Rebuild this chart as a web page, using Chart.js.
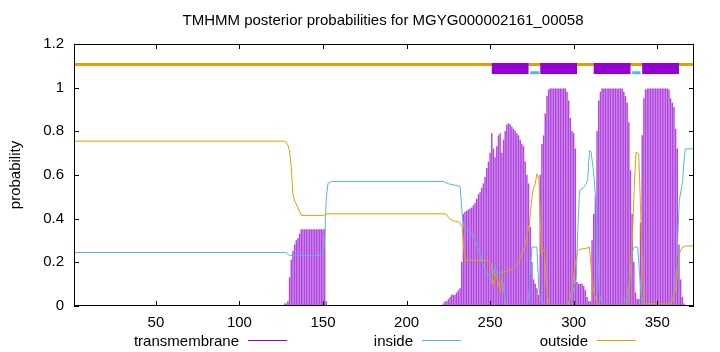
<!DOCTYPE html>
<html>
<head>
<meta charset="utf-8">
<script src="https://cdn.jsdelivr.net/npm/chart.js@4/dist/chart.umd.min.js"></script>
<style>
  body { margin: 0; background: #fff; font-family: "Liberation Sans", Arial, sans-serif; }
  #wrap { position: relative; width: 720px; height: 352px; }
  #title { position: absolute; top: 11px; left: 383px; transform: translateX(-50%); white-space: nowrap; font-size: 15px; line-height: 18px; color: #000; }
  .keytext { position: absolute; top: 332px; width: 200px; text-align: right; font-size: 15px; line-height: 18px; color: #000; white-space: nowrap; }
  .keyline { position: absolute; top: 340px; width: 39px; height: 1px; }
</style>
</head>
<body>
<div id="wrap">
  <canvas id="chart" width="720" height="352"></canvas>
  <div id="title">TMHMM posterior probabilities for MGYG000002161_00058</div>
</div>
<script>
// sequence length and tick labels
const seqLength = 372;
const xTicks = [50, 100, 150, 200, 250, 300, 350];
const yTicks = [0, 0.2, 0.4, 0.6, 0.8, 1, 1.2];

// transmembrane posterior, read per residue (0 elsewhere)
const tmSeg1Start = 127;
const tmSeg1 = [0.01, 0.01, 0.02, 0.13, 0.21, 0.25, 0.28, 0.30, 0.31, 0.33,
  0.35, 0.35, 0.35, 0.35, 0.35, 0.35, 0.35, 0.35, 0.35, 0.35, 0.35, 0.35, 0.35, 0.35, 0.35,
  0.02];
const tmSeg2Start = 222;
const tmSeg2 = [0.01, 0.02, 0.02, 0.03, 0.04, 0.05, 0.05, 0.05, 0.06, 0.07,
  0.08, 0.2, 0.42, 0.43, 0.435, 0.44, 0.445, 0.45, 0.46, 0.47,
  0.49, 0.51, 0.52, 0.54, 0.56, 0.59, 0.63, 0.66, 0.7, 0.79,
  0.72, 0.68, 0.73, 0.78, 0.79, 0.7, 0.76, 0.8, 0.83, 0.835,
  0.83, 0.82, 0.81, 0.8, 0.79, 0.78, 0.76, 0.74, 0.73, 0.66,
  0.6, 0.56, 0.36, 0.2, 0.12, 0.1, 0.08, 0.05, 0.6, 0.74,
  0.78, 0.88, 0.96, 0.99, 0.995, 0.995, 0.995, 0.995, 0.995, 0.995,
  0.995, 0.995, 0.995, 0.995, 0.98, 0.94, 0.86, 0.8, 0.79, 0.72,
  0.11, 0.1, 0.1, 0.1, 0.09, 0.07, 0.04, 0.02, 0.02, 0.3,
  0.42, 0.5, 0.8, 0.94, 0.98, 0.995, 0.995, 0.995, 0.995, 0.995,
  0.995, 0.995, 0.995, 0.995, 0.995, 0.995, 0.995, 0.995, 0.98, 0.96,
  0.93, 0.84, 0.62, 0.42, 0.2, 0.06, 0.03, 0.03, 0.38, 0.78,
  0.95, 0.99, 0.995, 0.995, 0.995, 0.995, 0.995, 0.995, 0.995, 0.995,
  0.995, 0.995, 0.995, 0.995, 0.995, 0.99, 0.95, 0.93, 0.91, 0.81,
  0.72, 0.28, 0.12, 0.04, 0.01];

// inside / outside posterior, [residue, probability] at the bends
const insidePts = [[1,0.245],[128,0.245],[130,0.232],[150,0.232],[151,0.3],[152,0.5],[153,0.562],[155,0.57],
  [222,0.57],[225,0.56],[232,0.548],[233,0.45],[234,0.36],[235,0.35],[238,0.34],[240,0.32],[242,0.28],
  [244,0.24],[246,0.18],[248,0.145],[250,0.14],[251,0.1],[252,0.16],[253,0.186],[254,0.15],[256,0.15],
  [257,0.16],[258,0.08],[259.5,0.003],[271.5,0.003],[273,0.03],[274,0.15],[275,0.27],[278,0.27],[279,0.1],
  [280,0.03],[283,0.003],[295.5,0.003],[297,0.02],[298.5,0.04],[300,0.08],[301.5,0.12],[302.5,0.35],
  [303.5,0.529],[305.8,0.541],[307,0.555],[308.4,0.575],[309,0.66],[309.6,0.712],[310.4,0.705],[311.5,0.64],
  [312.4,0.575],[313.4,0.453],[314.4,0.25],[315.4,0.057],[317,0.003],[329.3,0.003],[331.3,0.026],[333,0.09],
  [334.3,0.178],[335.5,0.26],[336.3,0.27],[338.3,0.27],[339.2,0.17],[340.3,0.057],[342,0.003],[357.3,0.003],
  [359.3,0.041],[361,0.1],[362.2,0.3],[363.2,0.483],[364.5,0.54],[365.2,0.575],[366,0.66],[366.8,0.72],[372,0.72]];
const outsidePts = [[1,0.755],[127.5,0.755],[129,0.735],[130,0.71],[131,0.636],[132,0.514],[133,0.48],[134,0.468],
  [135.5,0.44],[137,0.415],[150.5,0.415],[152,0.422],[223.5,0.422],[225.7,0.40],[228,0.39],[231.7,0.384],
  [233.3,0.36],[234.7,0.22],[235.7,0.209],[248.6,0.209],[250.7,0.194],[251.6,0.095],[253.2,0.148],[254.6,0.118],
  [256,0.064],[257.6,0.155],[260,0.16],[263.6,0.171],[266.6,0.194],[268.5,0.23],[270.6,0.27],[273.6,0.377],
  [274.5,0.46],[275.6,0.529],[277,0.56],[278,0.605],[279.2,0.582],[280,0.4],[280.6,0.24],[281.5,0.25],
  [282.5,0.263],[283.2,0.15],[283.9,0.057],[285.5,0.003],[296.5,0.003],[298,0.04],[299.5,0.102],[301,0.19],
  [302.4,0.255],[305,0.262],[308,0.265],[309.4,0.27],[310,0.22],[311,0.118],[312.4,0.05],[313.4,0.026],
  [314.5,0.003],[332.3,0.003],[333.5,0.1],[335.3,0.346],[336.3,0.55],[337.3,0.704],[338.9,0.697],[339.6,0.55],
  [340.3,0.377],[341.3,0.15],[342.3,0.01],[358.2,0.01],[359.5,0.03],[361.2,0.087],[362.2,0.15],[363.2,0.24],
  [365.2,0.27],[367,0.275],[372,0.275]];

// predicted topology shown along the top
const tmRegions = [[251, 273], [280, 302], [312, 334], [341, 363]];
const insideRegions = [[274, 279.5], [335, 340]];
const topLevels = { tm: 1.088, inside: 1.068, outside: 1.106 };

const legendNames = ['transmembrane', 'inside', 'outside'];
const colors = ['#9400D3', '#56B4E9', '#E69F00'];

// build per-residue TM data
const tmData = [];
for (let r = 1; r <= seqLength; r++) {
    let v = 0;
    if (r >= tmSeg1Start && r < tmSeg1Start + tmSeg1.length) v = tmSeg1[r - tmSeg1Start];
    if (r >= tmSeg2Start && r < tmSeg2Start + tmSeg2.length) v = tmSeg2[r - tmSeg2Start];
    tmData.push({ x: r, y: v });
}
const toXY = pts => pts.map(p => ({ x: p[0], y: p[1] }));
function segments(regions, level) {
    const out = [];
    regions.forEach(([a, b]) => {
        out.push({ x: a, y: level }, { x: b, y: level }, { x: b, y: null });
    });
    return out;
}

const frame = {
    id: 'frame',
    afterDatasetsDraw(chart) {
        const { ctx, chartArea: a, scales: { x, y } } = chart;
        ctx.save();
        ctx.strokeStyle = '#000';
        ctx.lineWidth = 1;
        ctx.beginPath();
        xTicks.forEach(v => {
            const px = Math.round(x.getPixelForValue(v)) + 0.5;
            ctx.moveTo(px, a.bottom); ctx.lineTo(px, a.bottom - 5);
            ctx.moveTo(px, a.top); ctx.lineTo(px, a.top + 5);
        });
        yTicks.forEach(v => {
            const py = Math.round(y.getPixelForValue(v)) + 0.5;
            ctx.moveTo(a.left, py); ctx.lineTo(a.left + 5, py);
            ctx.moveTo(a.right, py); ctx.lineTo(a.right - 5, py);
        });
        ctx.stroke();
        ctx.strokeRect(a.left + 0.5, a.top + 0.5, a.width - 1, a.height - 1);
        ctx.restore();
    }
};

const font = { family: '"Liberation Sans", Arial, sans-serif', size: 15 };

new Chart(document.getElementById('chart'), {
    type: 'bar',
    data: {
        datasets: [
            { type: 'line', data: toXY(outsidePts), borderColor: colors[2], borderWidth: 1, pointRadius: 0, order: 0 },
            { type: 'line', data: toXY(insidePts), borderColor: colors[1], borderWidth: 1, pointRadius: 0, order: 1 },
            { type: 'line', data: segments(tmRegions, topLevels.tm), borderColor: colors[0], borderWidth: 11,
              borderCapStyle: 'butt', pointRadius: 0, spanGaps: false, clip: false, order: 2 },
            { type: 'line', data: segments(insideRegions, topLevels.inside), borderColor: colors[1], borderWidth: 3,
              borderCapStyle: 'butt', pointRadius: 0, spanGaps: false, clip: false, order: 3 },
            { type: 'line', data: [{ x: 1, y: topLevels.outside }, { x: seqLength, y: topLevels.outside }],
              borderColor: colors[2], borderWidth: 3, borderCapStyle: 'butt', pointRadius: 0, order: 4 },
            { type: 'bar', data: tmData, backgroundColor: 'rgba(148, 0, 211, 0.72)', barThickness: 0.8, order: 5 }
        ]
    },
    options: {
        responsive: false,
        animation: false,
        devicePixelRatio: 1,
        layout: { padding: { left: 0, top: 44, right: 26, bottom: 0 } },
        plugins: { legend: { display: false }, title: { display: false }, tooltip: { enabled: false } },
        scales: {
            x: {
                type: 'linear', min: 1, max: seqLength, offset: false,
                grid: { display: false, drawTicks: false },
                border: { display: false },
                afterBuildTicks: s => { s.ticks = xTicks.map(v => ({ value: v })); },
                afterFit: s => { s.height = 46; },
                ticks: { color: '#000', font: font, padding: 8, maxRotation: 0 }
            },
            y: {
                min: 0, max: 1.2,
                grid: { display: false, drawTicks: false },
                border: { display: false },
                afterBuildTicks: s => { s.ticks = yTicks.map(v => ({ value: v })); },
                afterFit: s => { s.width = 74; },
                ticks: { color: '#000', font: font, padding: 10, callback: v => String(+v.toFixed(1)) },
                title: { display: true, text: 'probability', color: '#000', font: font, padding: { top: 7, bottom: 0 } }
            }
        }
    },
    plugins: [frame]
});

// key row under the axis
const keyStarts = [248, 422, 597];
const wrap = document.getElementById('wrap');
legendNames.forEach((name, i) => {
    const t = document.createElement('div');
    t.className = 'keytext';
    t.textContent = name;
    t.style.left = (keyStarts[i] - 9 - 200) + 'px';
    wrap.appendChild(t);
    const l = document.createElement('div');
    l.className = 'keyline';
    l.style.left = keyStarts[i] + 'px';
    l.style.background = colors[i];
    wrap.appendChild(l);
});
</script>
</body>
</html>
